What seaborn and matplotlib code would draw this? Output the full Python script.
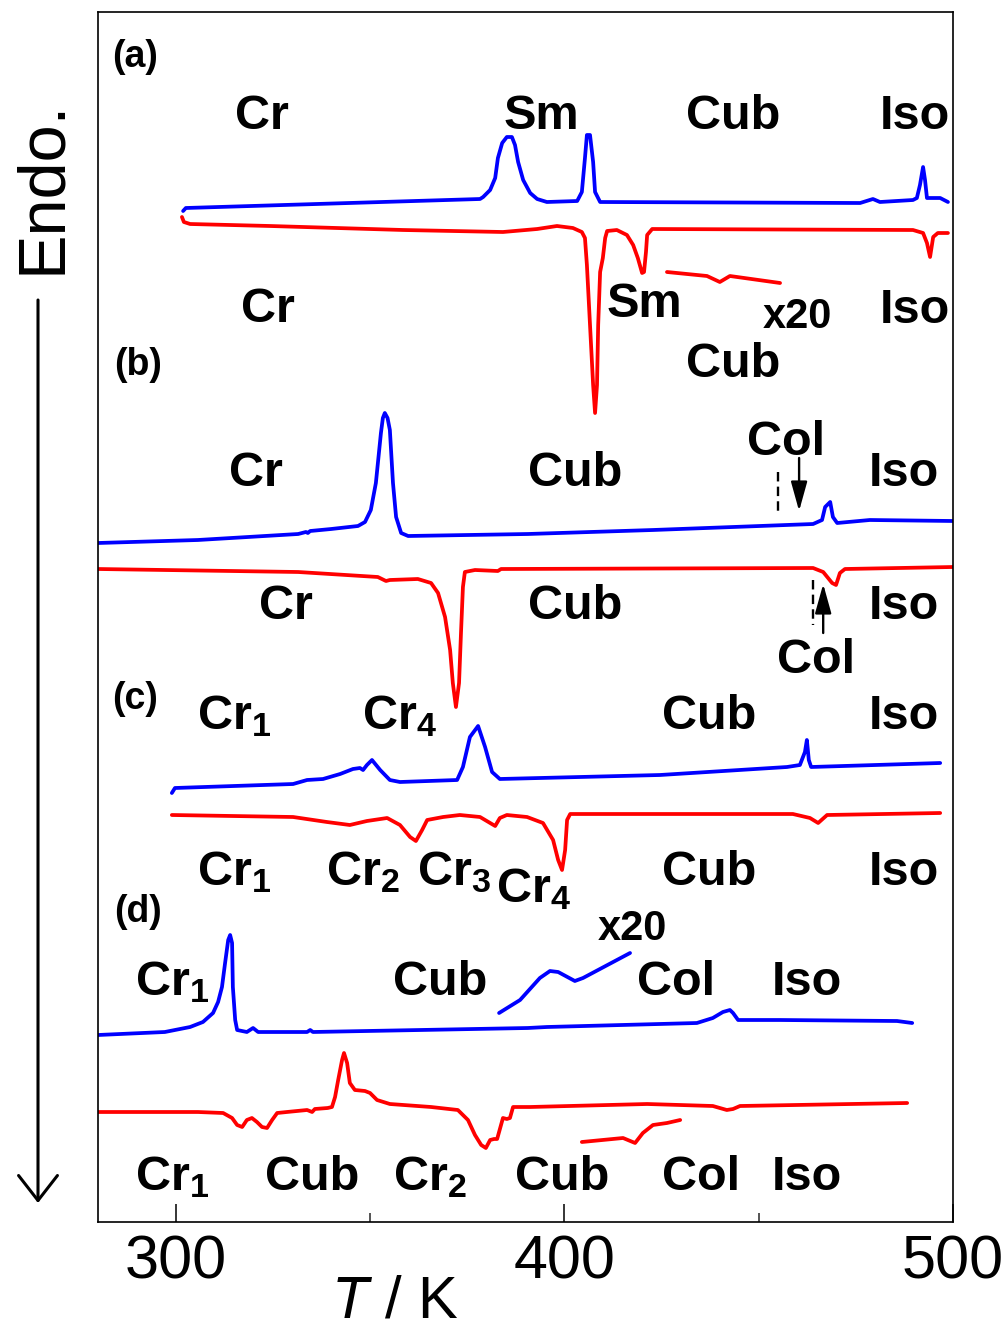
import matplotlib
matplotlib.use("Agg")
import matplotlib.pyplot as plt
import pandas as pd
import seaborn as sns

# ---- DSC traces: temperature (K) and stacked signal (arb. units, increasing downward) ----
# (a)
T_a_heat = [301.9, 302.6, 378.3, 379.1, 380.9, 382.2, 382.9, 384.0, 385.2, 386.5,
            387.3, 388.1, 389.4, 391.2, 393.0, 395.5, 403.3, 404.5, 405.3, 405.8,
            406.6, 407.4, 407.9, 409.2, 476.1, 479.4, 481.2, 489.7, 490.7, 491.5,
            492.3, 492.8, 493.3, 496.7, 498.7]
S_a_heat = [211, 208, 199, 197, 190, 178, 158, 143, 137, 137,
            145, 162, 180, 193, 199, 202, 201, 192, 158, 135,
            135, 162, 192, 202, 203, 199, 202, 200, 198, 185,
            167, 180, 198, 198, 202]

T_a_cool = [301.6, 302.1, 303.7, 324.3, 358.5, 384.2, 393.0, 398.1, 402.2, 404.5,
            405.3, 405.8, 406.6, 407.4, 407.9, 408.4, 408.7, 409.2, 409.7, 409.9,
            410.5, 411.0, 413.5, 416.1, 417.7, 418.9, 420.0, 420.5, 421.0, 421.3,
            422.6, 489.7, 492.3, 493.3, 494.1, 494.9, 496.1, 498.7]
S_a_cool = [217, 222, 224, 226, 230, 232, 229, 226, 228, 232,
            238, 265, 325, 385, 413, 385, 325, 272, 262, 258,
            238, 231, 230, 235, 245, 258, 273, 272, 252, 235,
            229, 230, 233, 243, 257, 237, 233, 233]

T_a_cool_x20 = [426.4, 436.7, 440.0, 442.6, 455.5]
S_a_cool_x20 = [272, 276, 282, 276, 283]

# (b)
T_b_heat = [280.0, 305.7, 331.5, 333.5, 334.0, 334.6, 340.0, 346.9, 348.7, 350.2,
            351.5, 352.8, 353.3, 353.8, 354.5, 355.1, 355.9, 356.7, 358.0, 359.8,
            390.6, 422.8, 464.0, 466.3, 467.1, 468.4, 469.1, 470.2, 478.6, 500.0]
S_b_heat = [543, 540, 534, 532, 533, 531, 529, 526, 522, 510,
            483, 433, 418, 413, 418, 430, 483, 517, 533, 536,
            534, 530, 524, 520, 507, 502, 517, 523, 520, 521]

T_b_cool = [280.0, 331.5, 352.0, 354.1, 355.1, 362.3, 365.7, 367.5, 369.3, 370.6,
            371.3, 372.1, 372.9, 373.4, 373.9, 374.4, 377.0, 382.9, 383.7, 464.0,
            466.6, 468.9, 469.9, 470.9, 472.2, 500.0]
S_b_cool = [569, 572, 577, 581, 580, 579, 583, 593, 617, 650,
            683, 707, 683, 633, 587, 572, 570, 571, 569, 568,
            572, 583, 585, 573, 569, 567]

# (c)
T_c_heat = [299.0, 299.8, 330.2, 333.8, 337.9, 342.3, 345.6, 347.4, 348.2, 349.2,
            350.5, 352.6, 355.1, 357.7, 372.4, 373.9, 375.7, 377.8, 379.6, 381.4,
            383.4, 404.0, 424.6, 457.3, 460.6, 461.9, 462.4, 462.9, 463.5, 496.7]
S_c_heat = [793, 788, 784, 780, 779, 774, 769, 768, 770, 765,
            760, 770, 780, 782, 780, 767, 737, 726, 747, 772,
            779, 777, 775, 767, 765, 752, 740, 760, 767, 763]

T_c_cool = [299.0, 330.2, 338.9, 344.8, 349.2, 354.4, 357.7, 360.3, 361.8, 363.4,
            364.7, 368.8, 373.1, 378.3, 380.9, 382.2, 383.4, 385.2, 390.4, 394.5,
            397.1, 398.4, 399.4, 400.2, 400.7, 401.5, 402.2, 458.8, 463.2, 465.3,
            467.6, 496.7]
S_c_cool = [815, 817, 822, 825, 821, 818, 825, 837, 841, 830,
            820, 817, 815, 817, 823, 826, 818, 815, 817, 823,
            840, 860, 870, 850, 820, 814, 814, 814, 818, 823,
            815, 813]

# (d)
T_d_heat = [280.0, 297.2, 303.7, 307.0, 309.6, 310.9, 311.9, 312.7, 313.5, 314.0,
            314.5, 314.7, 315.3, 315.8, 318.3, 319.9, 321.2, 333.8, 334.6, 335.3,
            390.6, 395.5, 434.1, 438.2, 440.8, 442.6, 443.4, 444.7, 455.5, 485.6,
            489.5]
S_d_heat = [1035, 1032, 1027, 1022, 1013, 1002, 987, 963, 940, 935,
            943, 987, 1020, 1030, 1032, 1028, 1032, 1032, 1030, 1032,
            1028, 1027, 1023, 1018, 1012, 1010, 1013, 1020, 1020, 1021,
            1023]

T_d_heat_x20 = [383.2, 388.6, 393.7, 396.3, 398.4, 402.7, 404.8, 416.9]
S_d_heat_x20 = [1013, 1000, 978, 971, 972, 981, 978, 953]

T_d_cool = [280.0, 305.7, 312.2, 314.5, 315.8, 317.1, 318.3, 319.6, 320.9, 322.2,
            323.5, 324.8, 326.1, 328.6, 333.8, 335.1, 335.8, 339.1, 340.2, 341.0,
            341.8, 342.8, 343.3, 344.1, 344.8, 346.1, 348.7, 350.0, 351.8, 355.1,
            365.7, 372.6, 375.2, 377.0, 378.6, 379.8, 380.9, 381.9, 382.7, 383.7,
            384.2, 385.2, 386.0, 386.8, 391.2, 421.3, 438.2, 441.8, 443.4, 445.2,
            488.2]
S_d_cool = [1112, 1112, 1113, 1118, 1125, 1127, 1120, 1118, 1122, 1127,
            1128, 1120, 1113, 1112, 1110, 1112, 1109, 1108, 1107, 1097,
            1080, 1060, 1053, 1063, 1083, 1090, 1091, 1093, 1100, 1104,
            1107, 1110, 1120, 1135, 1145, 1148, 1140, 1139, 1139, 1125,
            1118, 1119, 1118, 1107, 1107, 1104, 1106, 1110, 1109, 1106,
            1103]

T_d_cool_x20 = [404.5, 415.1, 418.2, 420.2, 422.8, 426.4, 429.8]
S_d_cool_x20 = [1142, 1138, 1143, 1133, 1125, 1123, 1120]

traces = [
    ("a_heat", T_a_heat, S_a_heat, "#0000ff"),
    ("a_cool", T_a_cool, S_a_cool, "#ff0000"),
    ("a_cool_x20", T_a_cool_x20, S_a_cool_x20, "#ff0000"),
    ("b_heat", T_b_heat, S_b_heat, "#0000ff"),
    ("b_cool", T_b_cool, S_b_cool, "#ff0000"),
    ("c_heat", T_c_heat, S_c_heat, "#0000ff"),
    ("c_cool", T_c_cool, S_c_cool, "#ff0000"),
    ("d_heat", T_d_heat, S_d_heat, "#0000ff"),
    ("d_heat_x20", T_d_heat_x20, S_d_heat_x20, "#0000ff"),
    ("d_cool", T_d_cool, S_d_cool, "#ff0000"),
    ("d_cool_x20", T_d_cool_x20, S_d_cool_x20, "#ff0000"),
]

# phase labels: text, temperature position, signal position (baseline), font size
phase_labels = [
    ("(a)", 289.5, 67, 27), ("(b)", 290.2, 375, 27), ("(c)", 289.5, 709, 27), ("(d)", 290.2, 922, 27),
    ("Cr", 322.3, 129, 35), ("Sm", 394.0, 129, 35), ("Cub", 443.5, 129, 35), ("Iso", 490.2, 129, 35),
    ("Cr", 323.6, 322, 35), ("Sm", 420.7, 317, 35), ("x20", 460.0, 328, 30), ("Iso", 490.2, 323, 35),
    ("Cub", 443.5, 377, 35),
    ("Cr", 320.7, 486, 35), ("Cub", 402.7, 486, 35), ("Col", 457.0, 455, 35), ("Iso", 487.4, 486, 35),
    ("Cr", 328.4, 619, 35), ("Cub", 402.7, 619, 35), ("Iso", 487.4, 619, 35), ("Col", 464.8, 673, 35),
    (r"Cr$_\mathbf{1}$", 315.0, 729, 35), (r"Cr$_\mathbf{4}$", 357.6, 729, 35),
    ("Cub", 437.3, 729, 35), ("Iso", 487.4, 729, 35),
    (r"Cr$_\mathbf{1}$", 315.0, 885, 35), (r"Cr$_\mathbf{2}$", 348.1, 885, 35),
    (r"Cr$_\mathbf{3}$", 371.7, 885, 35), (r"Cr$_\mathbf{4}$", 392.1, 902, 35),
    ("Cub", 437.3, 885, 35), ("Iso", 487.4, 885, 35),
    ("x20", 417.5, 940, 30),
    (r"Cr$_\mathbf{1}$", 299.0, 995, 35), ("Cub", 368.1, 995, 35), ("Col", 428.7, 995, 35), ("Iso", 462.4, 995, 35),
    (r"Cr$_\mathbf{1}$", 299.0, 1190, 35), ("Cub", 335.2, 1190, 35), (r"Cr$_\mathbf{2}$", 365.4, 1190, 35),
    ("Cub", 399.5, 1190, 35), ("Col", 435.2, 1190, 35), ("Iso", 462.4, 1190, 35),
]

# Col onset markers in (b): dashed guide (T, top, bottom) and arrow (T, tail, head)
col_guides = [(455.0, 472, 515), (464.0, 580, 625)]
col_arrows = [(460.4, 458, 511), (466.6, 633, 584)]

sns.set_theme(style="white")
plt.rcParams["font.family"] = ["Liberation Sans", "DejaVu Sans"]
plt.rcParams["mathtext.fontset"] = "custom"
plt.rcParams["mathtext.rm"] = "Liberation Sans"
plt.rcParams["mathtext.it"] = "Liberation Sans:italic"
plt.rcParams["mathtext.bf"] = "Liberation Sans:bold"

fig = plt.figure(figsize=(10.08, 13.42), dpi=100)
ax = fig.add_axes([98 / 1008, 120 / 1342, 855 / 1008, 1210 / 1342])

for name, T, S, col in traces:
    df = pd.DataFrame({"T": T, "S": S})
    sns.lineplot(data=df, x="T", y="S", ax=ax, sort=False, estimator=None,
                 color=col, lw=2.7, legend=False,
                 solid_joinstyle="round", solid_capstyle="round")

for txt, tx, sy, fs in phase_labels:
    ax.text(tx, sy, txt, ha="center", va="baseline", fontsize=fs,
            fontweight="bold", color="black")

for tx, y0, y1 in col_guides:
    ax.plot([tx, tx], [y0, y1], color="black", lw=1.7, ls=(0, (4, 2.2)))
for tx, y0, y1 in col_arrows:
    ax.annotate("", xy=(tx, y1), xytext=(tx, y0),
                arrowprops=dict(arrowstyle="-|>,head_length=0.9,head_width=0.25",
                                mutation_scale=20, lw=1.7, color="black",
                                shrinkA=0, shrinkB=0))

ax.set_xlim(280, 500)
ax.set_ylim(1222, 12)
ax.set_yticks([])
ax.set_xticks([300, 400, 500])
ax.set_xticks([350, 450], minor=True)
ax.tick_params(axis="x", which="major", direction="in", length=13, width=1.1,
               labelsize=44, pad=9, bottom=True, top=False, colors="black")
ax.tick_params(axis="x", which="minor", direction="in", length=6.5, width=1.1,
               bottom=True, top=False)
for sp in ax.spines.values():
    sp.set_color("black")
    sp.set_linewidth(1.2)
    sp.set_visible(True)

ax.set_xlabel(r"$\mathit{T}$ / K", fontsize=43, color="black")
ax.xaxis.set_label_coords(0.347, -0.043)
ax.set_ylabel("")

# endothermic direction indicator
ax.annotate("", xy=(38, 1342 - 1203), xytext=(38, 1342 - 300),
            xycoords="figure pixels", textcoords="figure pixels",
            arrowprops=dict(arrowstyle="->,head_length=0.9,head_width=0.7",
                            mutation_scale=20, lw=2.2, color="black",
                            shrinkA=0, shrinkB=0),
            annotation_clip=False)
fig.text(60 / 1008, 1 - 187 / 1342, "Endo.", rotation=90, rotation_mode="anchor",
         ha="center", va="baseline", fontsize=48, color="black")

fig.savefig("out.png", dpi=100)
